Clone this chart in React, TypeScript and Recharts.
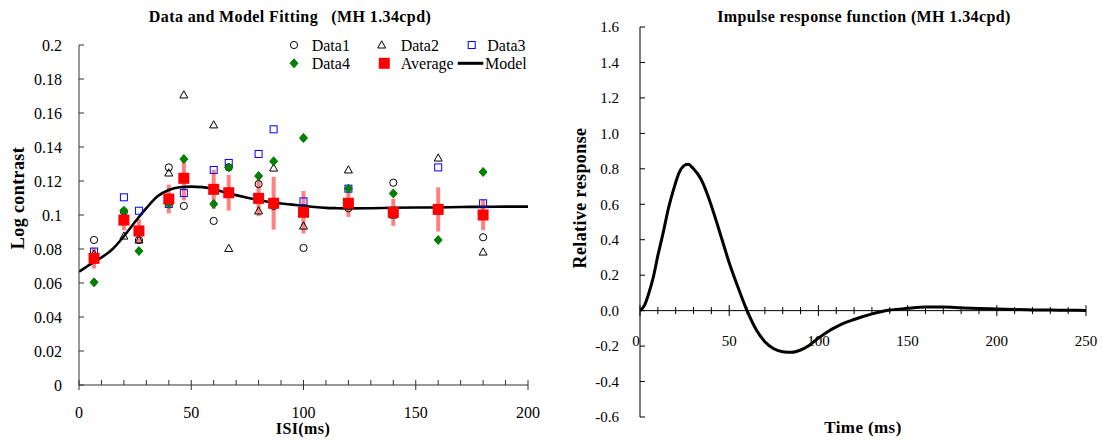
import React from 'react';
import {
  ComposedChart,
  Line,
  Scatter,
  XAxis,
  YAxis,
  ErrorBar,
  ReferenceLine,
  ReferenceDot,
  Legend,
} from 'recharts';

const FONT = '"Liberation Serif", "Times New Roman", Times, serif';

// Left panel: ISI conditions (ms)
const isi = [6.7, 20, 26.7, 40, 46.7, 60, 66.7, 80, 86.7, 100, 120, 140, 160, 180];
const data1 = [0.0853, 0.102, 0.0853, 0.128, 0.1053, 0.0965, 0.128, 0.1182, 0.1053, 0.0806, 0.104, 0.119, 0.104, 0.0869];
const data2 = [0.077, 0.0876, 0.0853, 0.1247, 0.1706, 0.153, 0.0803, 0.1024, 0.1276, 0.0935, 0.1265, 0.1, 0.1335, 0.0782];
const data3 = [0.0785, 0.1104, 0.1025, 0.1065, 0.1129, 0.1265, 0.1306, 0.1359, 0.1504, 0.108, 0.1155, 0.102, 0.128, 0.1069];
const data4 = [0.0604, 0.1025, 0.0788, 0.1065, 0.1329, 0.1065, 0.128, 0.1229, 0.1316, 0.1453, 0.1155, 0.1127, 0.0853, 0.1253];
const average = [0.0745, 0.097, 0.0906, 0.1094, 0.1216, 0.1151, 0.1131, 0.1098, 0.1069, 0.1016, 0.1069, 0.1016, 0.1033, 0.1];
const averageErr = [0.006, 0.006, 0.007, 0.0085, 0.013, 0.0115, 0.0105, 0.0105, 0.0155, 0.0125, 0.008, 0.008, 0.013, 0.009];

// Model fit curve
const modelIsi = [0, 5, 10, 15, 20, 25, 30, 35, 40, 45, 50, 55, 60, 65, 70, 75, 80, 85, 90, 95, 100, 105, 110, 115, 120, 130, 140, 150, 160, 170, 180, 190, 200];
const modelVal = [0.0666, 0.071, 0.075, 0.08, 0.0875, 0.096, 0.104, 0.111, 0.1147, 0.1163, 0.1167, 0.1164, 0.1151, 0.1133, 0.1117, 0.1102, 0.1088, 0.1076, 0.1068, 0.1061, 0.1054, 0.1047, 0.1042, 0.104, 0.1039, 0.104, 0.1043, 0.1044, 0.1045, 0.1047, 0.1048, 0.1049, 0.1049];

// Right panel: impulse response
const irfTime = [0, 2.5, 5, 7.5, 10, 13, 16, 19, 22, 25, 27, 30, 34, 38, 42, 46, 50, 55, 60, 65, 70, 75, 80, 85, 90, 95, 100, 105, 110, 115, 120, 125, 130, 135, 140, 150, 160, 170, 180, 190, 200, 210, 220, 230, 240, 250];
const irfVal = [0, 0.03, 0.1, 0.19, 0.31, 0.44, 0.58, 0.69, 0.78, 0.82, 0.826, 0.8, 0.745, 0.65, 0.53, 0.4, 0.27, 0.13, 0, -0.105, -0.175, -0.215, -0.232, -0.235, -0.222, -0.195, -0.155, -0.12, -0.092, -0.068, -0.05, -0.033, -0.018, -0.006, 0.003, 0.013, 0.02, 0.02, 0.016, 0.012, 0.009, 0.006, 0.004, 0.003, 0.002, 0.001];

// Ticks
const leftYTicks = [0, 0.02, 0.04, 0.06, 0.08, 0.1, 0.12, 0.14, 0.16, 0.18, 0.2];
const leftXTicks = [0, 10, 20, 30, 40, 50, 60, 70, 80, 90, 100, 110, 120, 130, 140, 150, 160, 170, 180, 190, 200];
const rightYTicks = [-0.6, -0.4, -0.2, 0, 0.2, 0.4, 0.6, 0.8, 1.0, 1.2, 1.4, 1.6];
const rightXTicks = [0, 10, 20, 30, 40, 50, 60, 70, 80, 90, 100, 110, 120, 130, 140, 150, 160, 170, 180, 190, 200, 210, 220, 230, 240, 250];
const rightXLabels = [0, 50, 100, 150, 200, 250];

const toPoints = (xs: number[], ys: number[], err?: number[]) =>
  xs.map((x, i) => ({ x, y: ys[i], err: err ? err[i] : 0 }));

// Marker shapes
const CircleMark = ({ cx, cy }: any) => (
  <circle cx={cx} cy={cy} r={3.6} fill="none" stroke="#000" strokeWidth={1} />
);
const TriangleMark = ({ cx, cy }: any) => (
  <path d={`M${cx},${cy - 4.2} L${cx + 4},${cy + 3} L${cx - 4},${cy + 3} Z`} fill="none" stroke="#000" strokeWidth={1} />
);
const SquareMark = ({ cx, cy }: any) => (
  <rect x={cx - 3.5} y={cy - 3.5} width={7} height={7} fill="none" stroke="#0000FF" strokeWidth={1} />
);
const DiamondMark = ({ cx, cy }: any) => (
  <path d={`M${cx},${cy - 4.5} L${cx + 4},${cy} L${cx},${cy + 4.5} L${cx - 4},${cy} Z`} fill="#008000" stroke="#008000" strokeWidth={1} />
);
const AverageMark = ({ cx, cy }: any) => (
  <rect x={cx - 5.5} y={cy - 5.5} width={11} height={11} fill="#FF0000" />
);
const NoMark = () => <g />;

const SvgText = ({ size = 15, children, ...rest }: any) => (
  <text style={{ fontFamily: FONT, fontSize: size }} fill="#000" {...rest}>
    {children}
  </text>
);

const LeftXTick = ({ x, y, payload }: any) => {
  const v = payload.value;
  const major = v % 50 === 0;
  return (
    <g>
      <line x1={x} x2={x} y1={y - 5} y2={major ? y + 5 : y} stroke="#333" />
      {major && (
        <SvgText x={x} y={y + 33} textAnchor="middle" size={16}>
          {v}
        </SvgText>
      )}
    </g>
  );
};

const LeftYTick = ({ x, y, payload }: any) => (
  <g>
    <line x1={x} x2={x + 5} y1={y} y2={y} stroke="#333" />
    <SvgText x={x - 17} y={y} dy="0.35em" textAnchor="end" size={16}>
      {String(Number(payload.value.toFixed(2)))}
    </SvgText>
  </g>
);

const RightYTick = ({ x, y, payload }: any) => (
  <g>
    <line x1={x} x2={x + 5} y1={y} y2={y} stroke="#000" />
    <SvgText x={x - 21} y={y} dy="0.35em" textAnchor="end" size={15}>
      {payload.value.toFixed(1)}
    </SvgText>
  </g>
);

const RightXLabel = ({ viewBox, value }: any) => (
  <SvgText x={viewBox.x + (value === 0 ? -4 : 0)} y={viewBox.y + 30} dy="0.35em" textAnchor="middle" size={15}>
    {value}
  </SvgText>
);

const legendItems = [
  { name: 'Data1', Mark: CircleMark, mx: 24, tx: 41.7, row: 0 },
  { name: 'Data2', Mark: TriangleMark, mx: 111.7, tx: 130.7, row: 0 },
  { name: 'Data3', Mark: SquareMark, mx: 201.7, tx: 217.3, row: 0 },
  { name: 'Data4', Mark: DiamondMark, mx: 24, tx: 41.7, row: 1 },
  { name: 'Average', Mark: AverageMark, mx: 114.3, tx: 130.7, row: 1 },
];

const LegendContent = () => (
  <svg width={275} height={45}>
    {legendItems.map(({ name, Mark, mx, tx, row }) => {
      const cy = row === 0 ? 15 : 33.3;
      return (
        <g key={name}>
          <Mark cx={mx} cy={cy} />
          <SvgText x={tx} y={cy} dy="0.35em" size={16}>
            {name}
          </SvgText>
        </g>
      );
    })}
    <line x1={187.7} x2={213.3} y1={33.3} y2={33.3} stroke="#000" strokeWidth={3} />
    <SvgText x={215} y={33.3} dy="0.35em" size={16}>
      Model
    </SvgText>
  </svg>
);

const titleStyle: React.CSSProperties = {
  position: 'absolute',
  fontFamily: FONT,
  fontWeight: 'bold',
  fontSize: 16,
  letterSpacing: 0.4,
  whiteSpace: 'pre',
  transform: 'translate(-50%, -50%)',
  color: '#000',
};

const FitChart = () => (
  <ComposedChart width={550} height={443} margin={{ top: 45, right: 22, bottom: 28, left: 19 }}>
    <XAxis
      type="number"
      dataKey="x"
      domain={[0, 200]}
      ticks={leftXTicks}
      interval={0}
      tickSize={0}
      tickMargin={0}
      tickLine={false}
      tick={<LeftXTick />}
      height={30}
      axisLine={{ stroke: '#333' }}
      allowDataOverflow
    />
    <YAxis
      type="number"
      dataKey="y"
      domain={[0, 0.2]}
      ticks={leftYTicks}
      interval={0}
      tickSize={0}
      tickMargin={0}
      tickLine={false}
      tick={<LeftYTick />}
      width={60}
      axisLine={{ stroke: '#333' }}
      allowDataOverflow
    />
    <Legend
      layout="horizontal"
      verticalAlign="middle"
      align="center"
      content={<LegendContent />}
      wrapperStyle={{ left: 270, top: 30, width: 275, height: 45 }}
    />
    {/* error bars first so the data markers sit on top of them */}
    <Scatter data={toPoints(isi, average, averageErr)} shape={<NoMark />} isAnimationActive={false} legendType="none">
      <ErrorBar dataKey="err" direction="y" width={0} stroke="#FF8080" strokeWidth={4} isAnimationActive={false} />
    </Scatter>
    <Scatter name="Data1" data={toPoints(isi, data1)} shape={<CircleMark />} isAnimationActive={false} />
    <Scatter name="Data2" data={toPoints(isi, data2)} shape={<TriangleMark />} isAnimationActive={false} />
    <Scatter name="Data3" data={toPoints(isi, data3)} shape={<SquareMark />} isAnimationActive={false} />
    <Scatter name="Data4" data={toPoints(isi, data4)} shape={<DiamondMark />} isAnimationActive={false} />
    <Line
      name="Model"
      data={toPoints(modelIsi, modelVal)}
      dataKey="y"
      type="monotone"
      stroke="#000"
      strokeWidth={2.6}
      dot={false}
      isAnimationActive={false}
    />
    <Scatter name="Average" data={toPoints(isi, average)} shape={<AverageMark />} isAnimationActive={false} />
  </ComposedChart>
);

const ImpulseChart = () => (
  <ComposedChart width={551} height={443} margin={{ top: 27, right: 16, bottom: 26, left: 29 }}>
    <XAxis type="number" dataKey="x" domain={[0, 250]} hide allowDataOverflow />
    <YAxis
      type="number"
      dataKey="y"
      domain={[-0.6, 1.6]}
      ticks={rightYTicks}
      interval={0}
      tickSize={0}
      tickMargin={0}
      tickLine={false}
      tick={<RightYTick />}
      width={60}
      axisLine={{ stroke: '#000' }}
      allowDataOverflow
    />
    {/* the time axis crosses at y = 0 */}
    <ReferenceLine y={0} stroke="#000" strokeWidth={1} />
    {rightXTicks.map((t) => {
      const h = t % 50 === 0 ? 0.031 : 0.02;
      return (
        <ReferenceLine
          key={`tick-${t}`}
          segment={[{ x: t, y: -h }, { x: t, y: h }]}
          stroke="#000"
          strokeWidth={1}
        />
      );
    })}
    {rightXLabels.map((t) => (
      <ReferenceDot
        key={`lab-${t}`}
        x={t}
        y={0}
        r={0}
        fill="none"
        stroke="none"
        label={<RightXLabel value={t} />}
      />
    ))}
    <Line
      data={toPoints(irfTime, irfVal)}
      dataKey="y"
      type="monotone"
      stroke="#000"
      strokeWidth={3}
      dot={false}
      isAnimationActive={false}
    />
  </ComposedChart>
);

export default function App() {
  return (
    <div
      style={{
        position: 'absolute',
        left: 0,
        top: 0,
        width: 1102,
        height: 443,
        background: '#fff',
        overflow: 'hidden',
        fontFamily: FONT,
      }}
    >
      <div style={{ position: 'absolute', left: 0, top: 0 }}>
        <FitChart />
      </div>
      <div style={{ position: 'absolute', left: 551, top: 0 }}>
        <ImpulseChart />
      </div>
      <div style={{ ...titleStyle, left: 290, top: 17 }}>Data and Model Fitting   (MH 1.34cpd)</div>
      <div style={{ ...titleStyle, left: 864, top: 17 }}>Impulse response function (MH 1.34cpd)</div>
      <div style={{ ...titleStyle, left: 303, top: 429 }}>ISI(ms)</div>
      <div style={{ ...titleStyle, left: 863, top: 428, fontSize: 17 }}>Time (ms)</div>
      <div style={{ ...titleStyle, left: 18, top: 198, fontSize: 18, transform: 'translate(-50%, -50%) rotate(-90deg)' }}>
        Log contrast
      </div>
      <div style={{ ...titleStyle, left: 580, top: 198, fontSize: 18, transform: 'translate(-50%, -50%) rotate(-90deg)' }}>
        Relative response
      </div>
    </div>
  );
}
